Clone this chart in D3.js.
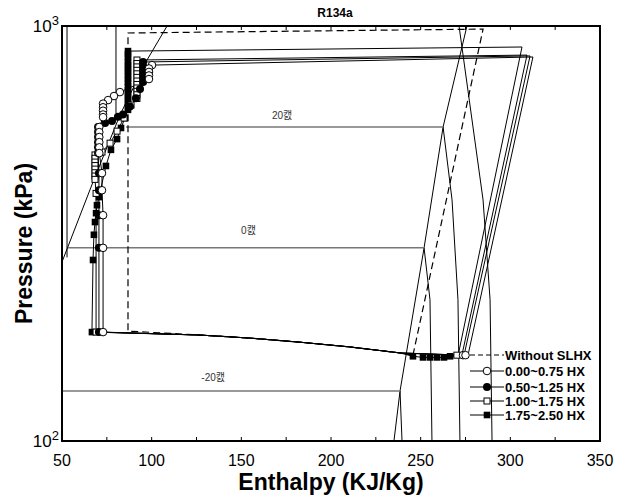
<!DOCTYPE html>
<html>
<head>
<meta charset="utf-8">
<script src="https://cdnjs.cloudflare.com/ajax/libs/d3/7.8.5/d3.min.js"></script>
<style>
  body { margin: 0; background: #fff; }
</style>
</head>
<body>
<div id="chart"></div>
<script>
// axis setup
const hTicks = [50, 100, 150, 200, 250, 300, 350];
const hMinorTicks = [75, 125, 175, 225, 275, 325];
const pTicks = [100, 1000];

// property diagram lines  [enthalpy kJ/kg, pressure kPa]
const satLiquid = [[50, 270], [67.3, 421], [82.3, 610], [97.4, 828], [108.6, 1000]];
const vertLineA = [[52.8, 1000], [52.8, 277]];
const vertLineB = [[80.1, 1000], [80.1, 617]];
const satVapor = [[275.8, 1000], [262.5, 571], [251.9, 292], [238.5, 132], [235.1, 100]];
const superTop = [[271.4, 1000], [284.8, 381], [288.7, 219], [289.8, 100]];
const super20 = [[262.5, 571], [267.5, 381], [270.8, 219], [271.9, 100]];
const super0 = [[251.9, 292], [255.2, 219], [256.3, 100]];
const superM20 = [[238.5, 132], [239.6, 100]];

// isotherms inside the dome
const iso20 = [[85.7, 571], [262.5, 571]];
const iso0 = [[53.3, 292], [251.9, 292]];
const isoM20 = [[50, 132], [238.5, 132]];
const isoLabels = [
  { text: "20캜", h: 172.7, p: 597 },
  { text: "0캜", h: 154, p: 315 },
  { text: "-20캜", h: 134.3, p: 139.5 }
];

// cycle without SLHX
const dashLine = [[245.7, 161], [284.8, 983], [86.8, 962], [86.8, 184], [127, 180],
  [154.8, 177], [182.7, 173], [210.6, 168.5], [238.5, 163], [245.7, 161]];

// shared evaporator path
const evapPath = [[127, 180], [154.8, 177], [182.7, 173], [210.6, 168.5], [238.5, 163]];

// 1.75~2.50 HX
const fsCompressor = [[270.8, 160], [306.5, 890]];
const fsLiquid = [[86.8, 870], [86.8, 855], [86.8, 840], [86.8, 820], [86.8, 805], [86.8, 790],
  [86.8, 775], [86.8, 760], [86.8, 745], [86.8, 730], [86.8, 715], [86.8, 700], [86.8, 690],
  [86.8, 675], [86.8, 665], [86.8, 650], [86.8, 640], [86.8, 628], [85.1, 600], [82.9, 568],
  [80.7, 534], [77.3, 503], [74.5, 460], [70.6, 387], [69.5, 370], [69, 354], [68.4, 337],
  [67.8, 314], [67.3, 273]];
const fsExpansion = [[66.7, 183]];
const fsSuction = [[245.7, 160], [251.3, 159], [255.2, 159], [259.1, 159], [263, 159], [266.4, 160]];

// 1.00~1.75 HX
const osCompressor = [[273, 161], [309.3, 851]];
const osLiquid = [[91.8, 828], [91.8, 812], [91.8, 797], [91.8, 782], [91.8, 767], [91.8, 752],
  [91.8, 737], [91.8, 723], [91.8, 709], [91.8, 696], [91.8, 683], [91.8, 669], [88.5, 645],
  [84.6, 600], [80.7, 558], [76.8, 522], [72.3, 497], [68.4, 489], [68.4, 480], [68.4, 470],
  [68.4, 461], [68.4, 452], [68.4, 443], [68.4, 435], [68.4, 427], [69, 395]];
const osExpansion = [[69, 183]];
const osSuction = [[270.2, 161]];

// 0.50~1.25 HX
const fcCompressor = [[274.2, 161], [311, 847]];
const fcLiquid = [[95.2, 819], [95.2, 801], [95.2, 783], [95.2, 766], [95.2, 749], [95.2, 733],
  [93.5, 705], [91.2, 670], [87.9, 640], [84, 612], [81.2, 604], [77.9, 590], [74, 584],
  [70.1, 571], [70.1, 555], [70.1, 540], [70.1, 525], [70.1, 510], [70.1, 494], [70.6, 442],
  [70.6, 402], [70.6, 350], [70.6, 292]];
const fcExpansion = [[70.6, 183]];
const fcSuction = [];

// 0.00~0.75 HX
const ocCompressor = [[276.4, 161], [312.6, 842]];
const ocLiquid = [[100.2, 805], [98.5, 790], [98.5, 775], [98.5, 760], [98.5, 745], [82.3, 693],
  [79, 678], [75.7, 663], [72.9, 650], [72.9, 637], [72.9, 625], [72.9, 612], [72.9, 603],
  [70.8, 571], [70.8, 555], [70.8, 540], [70.8, 525], [70.8, 510], [70.8, 494], [72.3, 442],
  [72.3, 402], [72.9, 350], [72.9, 292]];
const ocExpansion = [[72.9, 183]];
const ocSuction = [[273.6, 161], [275, 161]];

const legendNames = ["Without SLHX", "0.00~0.75 HX", "0.50~1.25 HX", "1.00~1.75 HX", "1.75~2.50 HX"];

const width = 625, height = 498;
const margin = { top: 26, right: 25, bottom: 57, left: 62 };

const x = d3.scaleLinear().domain([50, 350]).range([margin.left, width - margin.right]);
const y = d3.scaleLog().domain([100, 1000]).range([height - margin.bottom, margin.top]);

const svg = d3.select("#chart").append("svg")
  .attr("width", width)
  .attr("height", height)
  .style("font-family", "Arial, 'Liberation Sans', sans-serif");

svg.append("clipPath").attr("id", "plot-clip")
  .append("rect")
  .attr("x", margin.left).attr("y", margin.top)
  .attr("width", width - margin.left - margin.right)
  .attr("height", height - margin.top - margin.bottom);

const plot = svg.append("g").attr("clip-path", "url(#plot-clip)");
const line = d3.line().x(d => x(d[0])).y(d => y(d[1]));

// property lines
[satLiquid, vertLineA, vertLineB, satVapor, superTop, super20, super0, superM20].forEach(pts => {
  plot.append("path").attr("d", line(pts))
    .attr("fill", "none").attr("stroke", "#000").attr("stroke-width", 1);
});

[iso20, iso0, isoM20].forEach(pts => {
  plot.append("path").attr("d", line(pts))
    .attr("fill", "none").attr("stroke", "#777").attr("stroke-width", 1.5);
});

plot.selectAll(".iso-label")
  .data(isoLabels)
  .join("text")
  .attr("class", "iso-label")
  .attr("x", d => x(d.h))
  .attr("y", d => y(d.p))
  .attr("text-anchor", "middle")
  .attr("font-size", "10px")
  .attr("fill", "#333")
  .style("font-family", "Arial, 'Noto Sans CJK KR', sans-serif")
  .text(d => d.text);

// without SLHX
plot.append("path").attr("d", line(dashLine))
  .attr("fill", "none").attr("stroke", "#000").attr("stroke-width", 1.2)
  .attr("stroke-dasharray", "7,4");

function drawMarker(g, type, cx, cy) {
  if (type === "oc") {
    g.append("circle").attr("cx", cx).attr("cy", cy).attr("r", 3.8)
      .attr("fill", "#fff").attr("stroke", "#000").attr("stroke-width", 1);
  } else if (type === "fc") {
    g.append("circle").attr("cx", cx).attr("cy", cy).attr("r", 4)
      .attr("fill", "#000");
  } else if (type === "os") {
    g.append("rect").attr("x", cx - 3).attr("y", cy - 3).attr("width", 6).attr("height", 6)
      .attr("fill", "#fff").attr("stroke", "#000").attr("stroke-width", 1);
  } else if (type === "fs") {
    g.append("rect").attr("x", cx - 3.3).attr("y", cy - 3.3).attr("width", 6.6).attr("height", 6.6)
      .attr("fill", "#000");
  }
}

const series = [
  { type: "fs", comp: fsCompressor, liq: fsLiquid, exp: fsExpansion, suc: fsSuction },
  { type: "os", comp: osCompressor, liq: osLiquid, exp: osExpansion, suc: osSuction },
  { type: "fc", comp: fcCompressor, liq: fcLiquid, exp: fcExpansion, suc: fcSuction },
  { type: "oc", comp: ocCompressor, liq: ocLiquid, exp: ocExpansion, suc: ocSuction }
];

series.forEach(s => {
  const pts = [...s.comp, ...s.liq, ...s.exp, ...evapPath, ...s.suc, s.comp[0]];
  plot.append("path").attr("d", line(pts))
    .attr("fill", "none").attr("stroke", "#000").attr("stroke-width", 1);
});

series.forEach(s => {
  const g = plot.append("g");
  [...s.liq, ...s.exp, ...s.suc].forEach(d => drawMarker(g, s.type, x(d[0]), y(d[1])));
});

// frame and ticks
const frame = svg.append("g");
const x0 = margin.left, x1 = width - margin.right, y0 = margin.top, y1 = height - margin.bottom;

[...hTicks, ...hMinorTicks].forEach(t => {
  frame.append("line").attr("x1", x(t)).attr("x2", x(t)).attr("y1", y1).attr("y2", y1 - 4)
    .attr("stroke", "#000").attr("stroke-width", 1);
  frame.append("line").attr("x1", x(t)).attr("x2", x(t)).attr("y1", y0).attr("y2", y0 + 4)
    .attr("stroke", "#000").attr("stroke-width", 1);
});

frame.append("rect").attr("x", x0).attr("y", y0).attr("width", x1 - x0).attr("height", y1 - y0)
  .attr("fill", "none").attr("stroke", "#000").attr("stroke-width", 2);

svg.selectAll(".xlabel")
  .data(hTicks)
  .join("text")
  .attr("class", "xlabel")
  .attr("x", d => x(d))
  .attr("y", y1 + 25)
  .attr("text-anchor", "middle")
  .attr("font-size", "16px")
  .text(d => d);

pTicks.forEach(p => {
  const t = svg.append("text")
    .attr("x", x0 - 3)
    .attr("y", y(p) + 6)
    .attr("text-anchor", "end")
    .attr("font-size", "17px");
  t.append("tspan").text("10");
  t.append("tspan").attr("dy", -7).attr("font-size", "13px").text(Math.round(Math.log10(p)));
});

svg.append("text")
  .attr("x", (x0 + x1) / 2)
  .attr("y", 490)
  .attr("text-anchor", "middle")
  .attr("font-size", "23px")
  .attr("font-weight", "bold")
  .text("Enthalpy (KJ/Kg)");

svg.append("text")
  .attr("transform", `translate(32,${(y0 + y1) / 2 + 10}) rotate(-90)`)
  .attr("text-anchor", "middle")
  .attr("font-size", "23px")
  .attr("font-weight", "bold")
  .text("Pressure (kPa)");

svg.append("text")
  .attr("x", 335)
  .attr("y", 17)
  .attr("text-anchor", "middle")
  .attr("font-size", "12px")
  .attr("font-weight", "bold")
  .text("R134a");

// legend
const legend = svg.append("g").attr("transform", "translate(470,355)");
const legendTypes = ["dash", "oc", "fc", "os", "fs"];
const legendY = [0, 16, 32, 46, 60];
legendNames.forEach((name, i) => {
  const ly = legendY[i];
  const l = legend.append("line").attr("x1", 0).attr("x2", 34).attr("y1", ly).attr("y2", ly)
    .attr("stroke", "#000").attr("stroke-width", 1);
  if (legendTypes[i] === "dash") l.attr("stroke-dasharray", "5,3");
  else drawMarker(legend, legendTypes[i], 17, ly);
  legend.append("text").attr("x", 35).attr("y", ly + 5)
    .attr("font-size", "13px").attr("font-weight", "bold").text(name);
});
</script>
</body>
</html>
